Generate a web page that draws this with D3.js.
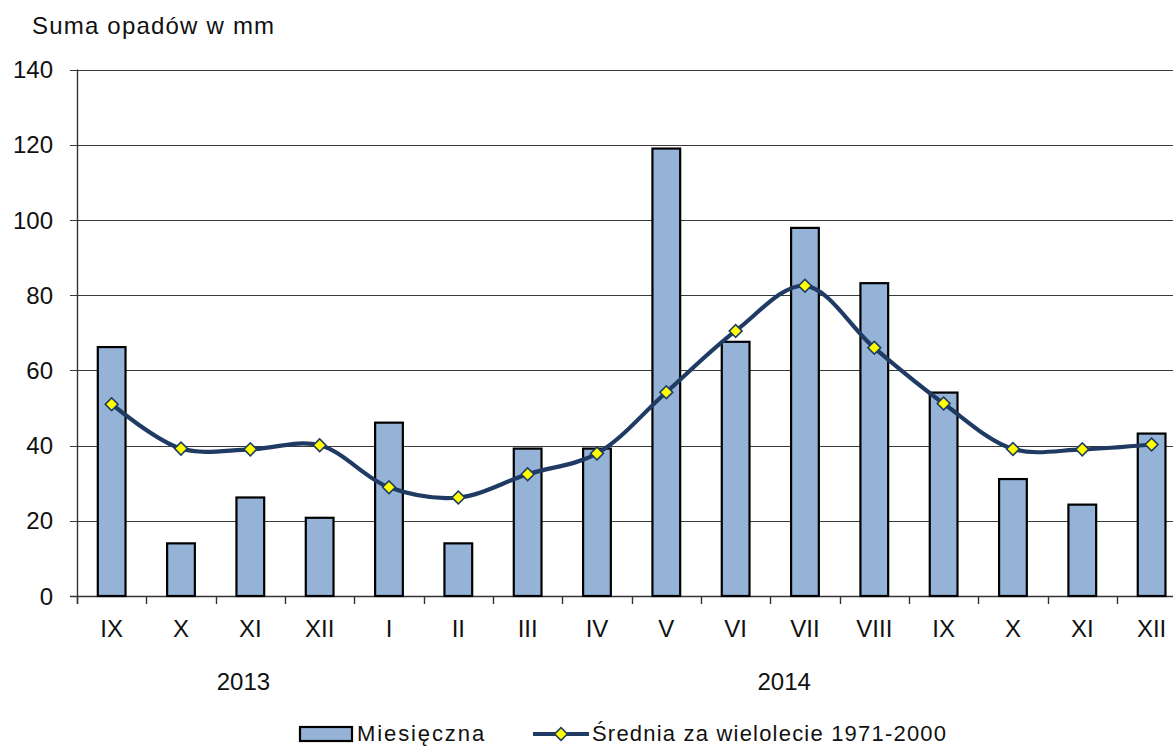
<!DOCTYPE html>
<html>
<head>
<meta charset="utf-8">
<script src="https://cdn.jsdelivr.net/npm/d3@7"></script>
<style>
  html, body { margin: 0; padding: 0; background: #fff; }
  svg { display: block; font-family: "Liberation Sans", Arial, sans-serif; }
</style>
</head>
<body>
<svg id="chart" width="1173" height="747"></svg>
<script>
// ---- data ----
const months = ["IX", "X", "XI", "XII", "I", "II", "III", "IV", "V", "VI", "VII", "VIII", "IX", "X", "XI", "XII"];
const monthly = [66.2, 14.0, 26.2, 20.8, 46.1, 14.0, 39.2, 39.2, 119.0, 67.6, 97.9, 83.2, 54.1, 31.1, 24.3, 43.2];
const longTermAvg = [51.0, 39.2, 39.0, 40.1, 28.9, 26.2, 32.4, 37.9, 54.2, 70.5, 82.5, 66.0, 51.2, 39.1, 39.0, 40.3];
const yTicks = [0, 20, 40, 60, 80, 100, 120, 140];
const years = ["2013", "2014"];
const yearAnchor = [2.4, 10.2]; // position along the month axis (band units)
const seriesNames = ["Miesięczna", "Średnia za wielolecie 1971-2000"];
const yTitle = "Suma opadów w mm";

// ---- layout ----
const svg = d3.select("#chart");
const mLeft = 77, mTop = 69.6, mBottom = 596, bandW = 69.33;
const mRight = mLeft + bandW * months.length;
const barFill = "#95B3D7", lineCol = "#1F3B64", markFill = "#FFFF00";

const x = d3.scaleBand().domain(d3.range(months.length)).range([mLeft, mRight]).paddingInner(0.6).paddingOuter(0.3);
const xb = d3.scaleBand().domain(d3.range(months.length)).range([mLeft, mRight]);
const y = d3.scaleLinear().domain([0, 140]).range([mBottom, mTop]);
const xPos = d3.scaleLinear().domain([0, months.length]).range([mLeft, mRight]);

// gridlines
svg.append("g").selectAll("line").data(yTicks).join("line")
  .attr("x1", mLeft - 7).attr("x2", 1173)
  .attr("y1", d => Math.round(y(d)) + 0.5).attr("y2", d => Math.round(y(d)) + 0.5)
  .attr("stroke", d => d === 0 ? "#333" : "#3a3a3a").attr("stroke-width", d => d === 0 ? 1.6 : 1.2);

// y labels
svg.append("g").selectAll("text").data(yTicks).join("text")
  .attr("x", 53).attr("y", d => y(d)).attr("dy", "0.36em")
  .attr("text-anchor", "end").attr("font-size", 24).attr("fill", "#111")
  .text(d => d);

// y axis line
svg.append("line").attr("x1", mLeft + 0.5).attr("x2", mLeft + 0.5)
  .attr("y1", mTop).attr("y2", mBottom + 8).attr("stroke", "#333").attr("stroke-width", 1.4);

// x ticks (category boundaries)
svg.append("g").selectAll("line").data(d3.range(months.length)).join("line")
  .attr("x1", d => Math.round(xb(d)) + 0.5).attr("x2", d => Math.round(xb(d)) + 0.5)
  .attr("y1", mBottom).attr("y2", mBottom + 8)
  .attr("stroke", "#333").attr("stroke-width", 1.4);

// bars
svg.append("g").selectAll("rect").data(monthly).join("rect")
  .attr("x", (d, i) => x(i)).attr("width", x.bandwidth())
  .attr("y", d => y(d)).attr("height", d => mBottom - y(d))
  .attr("fill", barFill).attr("stroke", "#000").attr("stroke-width", 2.2);

// x labels
svg.append("g").selectAll("text").data(months).join("text")
  .attr("x", (d, i) => xb(i) + xb.bandwidth() / 2).attr("y", 637)
  .attr("text-anchor", "middle").attr("font-size", 24).attr("fill", "#111")
  .text(d => d);

// year labels
svg.append("g").selectAll("text").data(years).join("text")
  .attr("x", (d, i) => xPos(yearAnchor[i])).attr("y", 690)
  .attr("text-anchor", "middle").attr("font-size", 24).attr("fill", "#111")
  .text(d => d);

// line
const cx = i => xb(i) + xb.bandwidth() / 2;
const line = d3.line().x((d, i) => cx(i)).y(d => y(d)).curve(d3.curveCatmullRom.alpha(0.5));
svg.append("path").datum(longTermAvg).attr("d", line)
  .attr("fill", "none").attr("stroke", lineCol).attr("stroke-width", 4.2).attr("stroke-linejoin", "round");

const diamond = d3.symbol().type(d3.symbolSquare).size(82);
svg.append("g").selectAll("path").data(longTermAvg).join("path")
  .attr("d", diamond)
  .attr("transform", (d, i) => `translate(${cx(i)},${y(d)}) rotate(45)`)
  .attr("fill", markFill).attr("stroke", lineCol).attr("stroke-width", 1.6);

// title
svg.append("text").attr("x", 32).attr("y", 34).attr("font-size", 24)
  .attr("letter-spacing", 1.2).attr("fill", "#111").text(yTitle);

// legend
const lg = svg.append("g");
lg.append("rect").attr("x", 300).attr("y", 727).attr("width", 52).attr("height", 14)
  .attr("fill", barFill).attr("stroke", "#000").attr("stroke-width", 2.2);
lg.append("text").attr("x", 357).attr("y", 741).attr("font-size", 22).attr("letter-spacing", 1.9)
  .attr("fill", "#111").text(seriesNames[0]);
lg.append("line").attr("x1", 533).attr("x2", 589).attr("y1", 734).attr("y2", 734)
  .attr("stroke", lineCol).attr("stroke-width", 4.2);
lg.append("path").attr("d", diamond).attr("transform", "translate(561,734) rotate(45)")
  .attr("fill", markFill).attr("stroke", lineCol).attr("stroke-width", 1.6);
lg.append("text").attr("x", 592).attr("y", 741).attr("font-size", 22).attr("letter-spacing", 1.2)
  .attr("fill", "#111").text(seriesNames[1]);
</script>
</body>
</html>
